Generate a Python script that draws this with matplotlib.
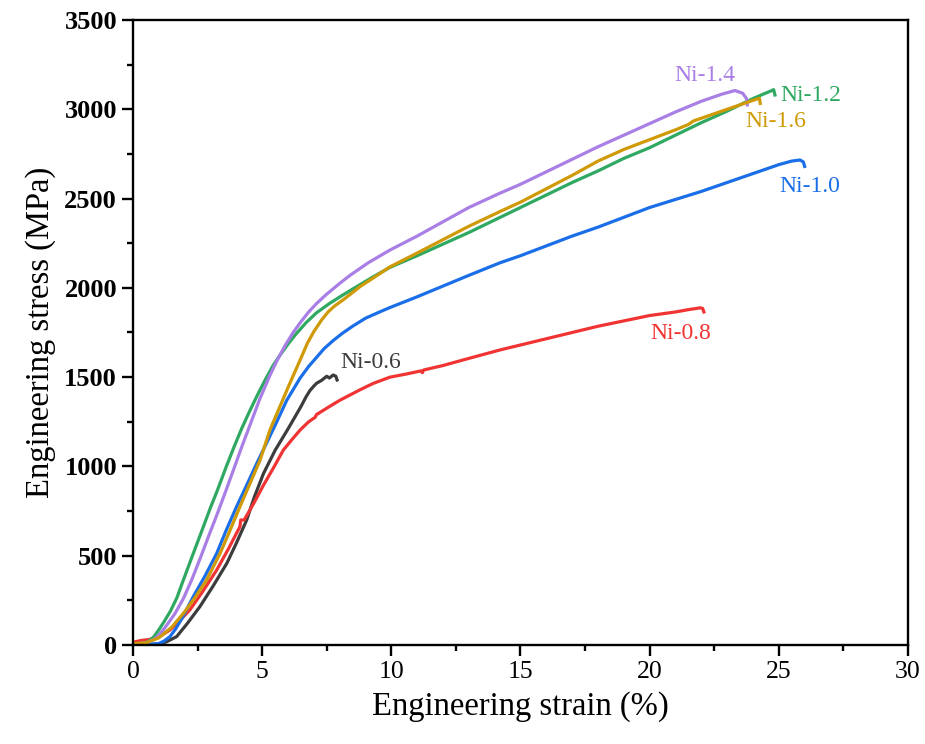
import numpy as np
import matplotlib.pyplot as plt
from matplotlib.ticker import MultipleLocator

plt.rcParams['font.family'] = ['Liberation Serif', 'DejaVu Serif']

# Ni-0.6
x06 = [0, 0.6, 1.0, 1.3, 1.69, 2.1, 2.59, 3.1, 3.63, 4.0, 4.4, 4.7, 5.05, 5.5, 6.0, 6.3,
       6.5, 6.7, 6.85, 7.0, 7.11, 7.3, 7.5, 7.6, 7.75, 7.85, 7.9]
y06 = [0, 2, 5, 18, 47, 120, 215, 330, 457, 570, 700, 830, 960, 1090, 1210, 1285,
       1335, 1390, 1425, 1450, 1466, 1482, 1505, 1495, 1512, 1505, 1484]

# Ni-0.8
x08 = [0, 0.3, 0.6, 1.0, 1.43, 1.8, 2.2, 2.7, 3.24, 3.7, 4.14, 4.17, 4.3, 4.7, 5.05, 5.45,
       5.82, 6.15, 6.47, 6.8, 7.05, 7.1, 7.6, 8.0, 8.4, 8.8, 9.3, 9.95, 10.6, 11.15, 11.2,
       11.25, 12, 13, 14.2, 15, 16, 17, 18, 19, 20, 21, 21.5, 21.95, 22.05, 22.1]
y08 = [15, 25, 30, 45, 84, 135, 196, 300, 420, 540, 663, 700, 700, 800, 895, 995,
       1092, 1150, 1204, 1250, 1275, 1290, 1335, 1370, 1400, 1430, 1465, 1500, 1518,
       1535, 1525, 1540, 1565, 1605, 1652, 1680, 1715, 1750, 1785, 1815, 1845, 1865,
       1878, 1888, 1885, 1865]

# Ni-1.0
x10 = [0, 0.5, 1.0, 1.2, 1.43, 1.65, 1.9, 2.33, 2.8, 3.24, 3.6, 4.01, 4.4, 4.79, 5.15,
       5.5, 5.95, 6.47, 6.8, 7.1, 7.4, 7.75, 8.1, 8.5, 9.0, 9.5, 9.95, 11, 12, 13, 14.2,
       15, 16, 17, 18, 19, 20, 21, 22, 23, 24, 25, 25.5, 25.82, 25.95, 26.0]
y10 = [3, 3, 8, 22, 47, 90, 150, 270, 390, 513, 640, 775, 895, 1017, 1125, 1230,
       1370, 1495, 1560, 1610, 1660, 1705, 1745, 1785, 1830, 1862, 1890, 1950, 2010,
       2070, 2140, 2180, 2235, 2290, 2340, 2395, 2450, 2495, 2540, 2590, 2640, 2690,
       2710, 2716, 2705, 2680]

# Ni-1.2
x12 = [0, 0.4, 0.6, 0.8, 1.0, 1.2, 1.45, 1.7, 1.95, 2.3, 2.6, 3.0, 3.25, 3.6, 3.9, 4.2,
       4.5, 4.8, 5.1, 5.4, 5.7, 6.0, 6.3, 6.7, 7.1, 7.6, 8.1, 8.66, 9.3, 9.95, 11, 12, 13,
       14, 15, 16, 17, 18, 19, 20, 21, 22, 23, 24, 24.4, 24.65, 24.8, 24.85]
y12 = [5, 10, 20, 45, 85, 130, 190, 265, 364, 500, 615, 770, 860, 995, 1105, 1210,
       1305, 1395, 1480, 1560, 1625, 1685, 1740, 1805, 1860, 1912, 1958, 2007, 2062,
       2115, 2180, 2245, 2310, 2380, 2450, 2520, 2590, 2655, 2725, 2785, 2855, 2925,
       2990, 3060, 3085, 3100, 3110, 3080]

# Ni-1.4
x14 = [0, 0.5, 0.8, 1.0, 1.2, 1.4, 1.62, 1.95, 2.27, 2.6, 2.92, 3.25, 3.56, 3.9, 4.21,
       4.55, 4.9, 5.3, 5.6, 5.9, 6.2, 6.5, 6.8, 7.11, 7.5, 8.0, 8.4, 9.1, 9.95, 11, 12,
       13, 14.2, 15, 16, 17, 18, 19, 20, 21, 22, 22.8, 23.3, 23.6, 23.75, 23.78]
y14 = [5, 12, 30, 55, 90, 130, 175, 260, 364, 485, 607, 730, 850, 985, 1110,
       1240, 1375, 1510, 1600, 1680, 1750, 1810, 1865, 1913, 1965, 2025, 2070, 2140,
       2212, 2290, 2370, 2450, 2530, 2580, 2650, 2720, 2790, 2855, 2920, 2985, 3045,
       3085, 3105, 3090, 3060, 3025]

# Ni-1.6
x16 = [0, 0.5, 1.0, 1.5, 1.95, 2.4, 2.85, 3.37, 3.75, 4.14, 4.5, 4.92, 5.3, 5.7, 6.1,
       6.47, 6.75, 7.0, 7.3, 7.55, 7.8, 8.2, 8.79, 9.4, 9.95, 11, 12, 13, 14.2, 15, 16,
       17, 18, 19, 20, 21, 21.5, 21.7, 22, 23, 24, 24.25, 24.28]
y16 = [8, 12, 40, 100, 177, 265, 364, 513, 640, 775, 895, 1036, 1204, 1340, 1475,
       1596, 1690, 1755, 1820, 1865, 1898, 1940, 2007, 2065, 2118, 2195, 2270, 2345,
       2427, 2480, 2555, 2630, 2710, 2775, 2830, 2885, 2915, 2935, 2950, 3000, 3050,
       3062, 3033]

series = [
    ("Ni-0.6", x06, y06, "#3c3c3c", (9.2, 1580)),
    ("Ni-0.8", x08, y08, "#f03434", (21.2, 1745)),
    ("Ni-1.0", x10, y10, "#1a6ee8", (26.2, 2570)),
    ("Ni-1.2", x12, y12, "#2fa862", (26.25, 3080)),
    ("Ni-1.4", x14, y14, "#a97fe6", (22.15, 3192)),
    ("Ni-1.6", x16, y16, "#cf9a06", (24.9, 2930)),
]

fig = plt.figure(figsize=(9.25, 7.44), dpi=100)
ax = fig.add_axes([0.1438, 0.1331, 0.8378, 0.84])

for name, xs, ys, c, pos in series:
    ax.plot(xs, ys, color=c, lw=2.3, solid_joinstyle="round")
    ax.text(pos[0], pos[1], name, color=c, fontsize=17, ha="center", va="center")

ax.set_xlim(0, 30)
ax.set_ylim(0, 3500)
ax.xaxis.set_major_locator(MultipleLocator(5))
ax.xaxis.set_minor_locator(MultipleLocator(2.5))
ax.yaxis.set_major_locator(MultipleLocator(500))
ax.yaxis.set_minor_locator(MultipleLocator(250))
ax.tick_params(which="major", direction="out", length=8, width=1.7, labelsize=19)
ax.tick_params(which="minor", direction="out", length=4.5, width=1.7)
ax.tick_params(axis="x", labelsize=18.5)
for lab in ax.get_yticklabels():
    lab.set_fontweight("bold")
for s in ax.spines.values():
    s.set_linewidth(1.7)

ax.set_xlabel("Engineering strain (%)", fontsize=23.5, labelpad=6)
ax.set_ylabel("Engineering stress (MPa)", fontsize=23.5, labelpad=6)

fig.savefig("out.png", dpi=100)
